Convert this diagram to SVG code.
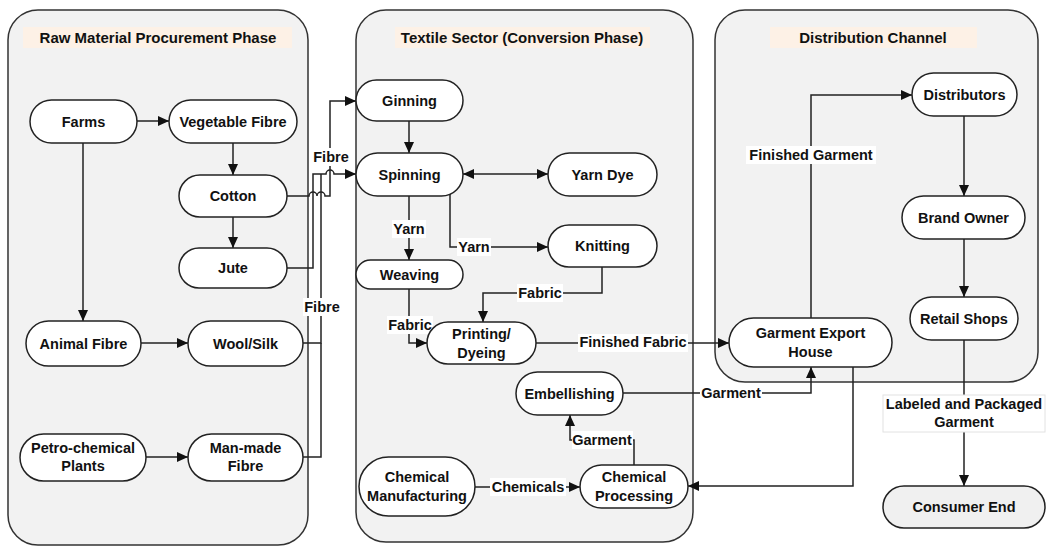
<svg xmlns="http://www.w3.org/2000/svg" width="1051" height="547" viewBox="0 0 1051 547">
<defs>
<marker id="arr" viewBox="0 0 11 10" refX="11" refY="5" markerWidth="11" markerHeight="10" markerUnits="userSpaceOnUse" orient="auto-start-reverse">
<path d="M0,0 L11,5 L0,10 z" fill="#111"/>
</marker>
<style>
.panel{fill:#f2f2f2;stroke:#333;stroke-width:1.5}
.band{fill:#fdf1e6}
.node rect{fill:#fff;stroke:#222;stroke-width:1.5}
text{font-family:"Liberation Sans",Arial,sans-serif;font-weight:bold;font-size:14.5px;fill:#111;text-anchor:middle;dominant-baseline:central}
.title{font-size:15px}
.edge{fill:none;stroke:#222;stroke-width:1.5}
.arrow{marker-end:url(#arr)}
.lbg{fill:#fff}
</style>
</defs>
<g id="panels">
<rect class="panel" x="8" y="10" width="300" height="535" rx="30"/>
<rect class="band" x="23" y="27" width="269" height="21"/>
<text class="title" x="158" y="37.5">Raw Material Procurement Phase</text>
<rect class="panel" x="356" y="10" width="337" height="532" rx="30"/>
<rect class="band" x="395" y="27" width="255" height="21"/>
<text class="title" x="522" y="37.5">Textile Sector (Conversion Phase)</text>
<rect class="panel" x="715" y="10" width="323" height="372" rx="30"/>
<rect class="band" x="770" y="27" width="207" height="21"/>
<text class="title" x="873" y="37.5">Distribution Channel</text>
</g>
<g id="connectors">
<path class="edge arrow" d="M137,121 H169"/>
<path class="edge arrow" d="M83,143 V321"/>
<path class="edge arrow" d="M233,143 V175"/>
<path class="edge arrow" d="M233,217 V248"/>
<path class="edge arrow" d="M141,343 H188"/>
<path class="edge arrow" d="M146,457 H188"/>
<path class="edge arrow" d="M287,196 H309 a4,4 0 0 1 8,0 a4,4 0 0 1 8,0 H330 V101 H356"/>
<path class="edge arrow" d="M287,268 H313 V174 H326 a4,4 0 0 1 8,0 H356"/>
<path class="edge" d="M303,343 H321 V174"/>
<path class="edge" d="M303,457 H321 V343"/>
<path class="edge arrow" d="M409,121 V153"/>
<path class="edge arrow" d="M463,174 H548" marker-start="url(#arr)"/>
<path class="edge arrow" d="M409,196 V260"/>
<path class="edge arrow" d="M450,194 V247 H548"/>
<path class="edge arrow" d="M409,289 V343 H427"/>
<path class="edge arrow" d="M602,267 V293 H483 V322"/>
<path class="edge arrow" d="M536,343 H729"/>
<path class="edge arrow" d="M623,393 H811 V367"/>
<path class="edge arrow" d="M853,367 V486 H688"/>
<path class="edge arrow" d="M475,487 H580"/>
<path class="edge arrow" d="M634,465 V440 H570 V415"/>
<path class="edge arrow" d="M811,318 V95 H912"/>
<path class="edge arrow" d="M964,116 V196"/>
<path class="edge arrow" d="M964,239 V297"/>
<path class="edge arrow" d="M964,340 V486"/>
<g id="labels">
<rect class="lbg" x="312" y="148" width="38" height="18"/><text x="331" y="157">Fibre</text>
<rect class="lbg" x="303" y="298" width="38" height="18"/><text x="322" y="307">Fibre</text>
<rect class="lbg" x="392" y="220" width="34" height="18"/><text x="409" y="229">Yarn</text>
<rect class="lbg" x="457" y="238" width="34" height="18"/><text x="474" y="247">Yarn</text>
<rect class="lbg" x="387" y="316" width="46" height="18"/><text x="410" y="325">Fabric</text>
<rect class="lbg" x="517" y="284" width="46" height="18"/><text x="540" y="293">Fabric</text>
<rect class="lbg" x="578" y="334" width="110" height="18"/><text x="633" y="342">Finished Fabric</text>
<rect class="lbg" x="700" y="384" width="62" height="18"/><text x="731" y="393">Garment</text>
<rect class="lbg" x="572" y="431" width="61" height="18"/><text x="602" y="440">Garment</text>
<rect class="lbg" x="490" y="478" width="76" height="18"/><text x="528" y="487">Chemicals</text>
<rect class="lbg" x="746" y="146" width="130" height="18"/><text x="811" y="155">Finished Garment</text>
<rect x="883" y="395" width="162" height="37" fill="#fff" stroke="#e2e2e2"/>
<text x="964" y="404">Labeled and Packaged</text>
<text x="964" y="422">Garment</text>
</g>
</g>
<g id="farms" class="node"><rect x="30" y="100" width="107" height="43" rx="21.5"/><text x="83.5" y="121.5">Farms</text></g>
<g id="vegetable-fibre" class="node"><rect x="169" y="100" width="128" height="43" rx="21.5"/><text x="233" y="121.5">Vegetable Fibre</text></g>
<g id="cotton" class="node"><rect x="179" y="175" width="108" height="42" rx="21"/><text x="233" y="196">Cotton</text></g>
<g id="jute" class="node"><rect x="179" y="248" width="108" height="40" rx="20"/><text x="233" y="268">Jute</text></g>
<g id="animal-fibre" class="node"><rect x="26" y="321" width="115" height="45" rx="22.5"/><text x="83.5" y="343.5">Animal Fibre</text></g>
<g id="wool-silk" class="node"><rect x="188" y="321" width="115" height="45" rx="22.5"/><text x="245.5" y="343.5">Wool/Silk</text></g>
<g id="petro-chemical" class="node"><rect x="20" y="434" width="126" height="47" rx="23.5"/><text x="83" y="448">Petro-chemical</text><text x="83" y="466">Plants</text></g>
<g id="man-made" class="node"><rect x="188" y="434" width="115" height="47" rx="23.5"/><text x="245.5" y="448">Man-made</text><text x="245.5" y="466">Fibre</text></g>
<g id="ginning" class="node"><rect x="356" y="80" width="107" height="41" rx="20.5"/><text x="409.5" y="100.5">Ginning</text></g>
<g id="spinning" class="node"><rect x="356" y="153" width="107" height="43" rx="21.5"/><text x="409.5" y="174.5">Spinning</text></g>
<g id="yarn-dye" class="node"><rect x="548" y="153" width="109" height="43" rx="21.5"/><text x="602.5" y="174.5">Yarn Dye</text></g>
<g id="knitting" class="node"><rect x="548" y="225" width="109" height="42" rx="21"/><text x="602.5" y="246">Knitting</text></g>
<g id="weaving" class="node"><rect x="356" y="260" width="107" height="29" rx="14.5"/><text x="409.5" y="274.5">Weaving</text></g>
<g id="printing-dyeing" class="node"><rect x="427" y="322" width="109" height="42" rx="21"/><text x="481.5" y="333.5">Printing/</text><text x="481.5" y="352.5">Dyeing</text></g>
<g id="embellishing" class="node"><rect x="516" y="372" width="107" height="43" rx="21.5"/><text x="569.5" y="393.5">Embellishing</text></g>
<g id="chemical-manufacturing" class="node"><rect x="359" y="457" width="116" height="59" rx="29.5"/><text x="417" y="477">Chemical</text><text x="417" y="496">Manufacturing</text></g>
<g id="chemical-processing" class="node"><rect x="580" y="465" width="108" height="43" rx="21.5"/><text x="634" y="477">Chemical</text><text x="634" y="496">Processing</text></g>
<g id="distributors" class="node"><rect x="912" y="73" width="105" height="43" rx="21.5"/><text x="964.5" y="94.5">Distributors</text></g>
<g id="brand-owner" class="node"><rect x="902" y="196" width="123" height="43" rx="21.5"/><text x="963.5" y="217.5">Brand Owner</text></g>
<g id="retail-shops" class="node"><rect x="910" y="297" width="108" height="43" rx="21.5"/><text x="964" y="318.5">Retail Shops</text></g>
<g id="garment-export-house" class="node"><rect x="729" y="318" width="163" height="49" rx="24.5"/><text x="810.5" y="333">Garment Export</text><text x="810.5" y="352">House</text></g>
<g id="consumer-end" class="node"><rect x="883" y="486" width="162" height="42" rx="21" style="fill:#f0f0f0"/><text x="964" y="507">Consumer End</text></g>
</svg>
